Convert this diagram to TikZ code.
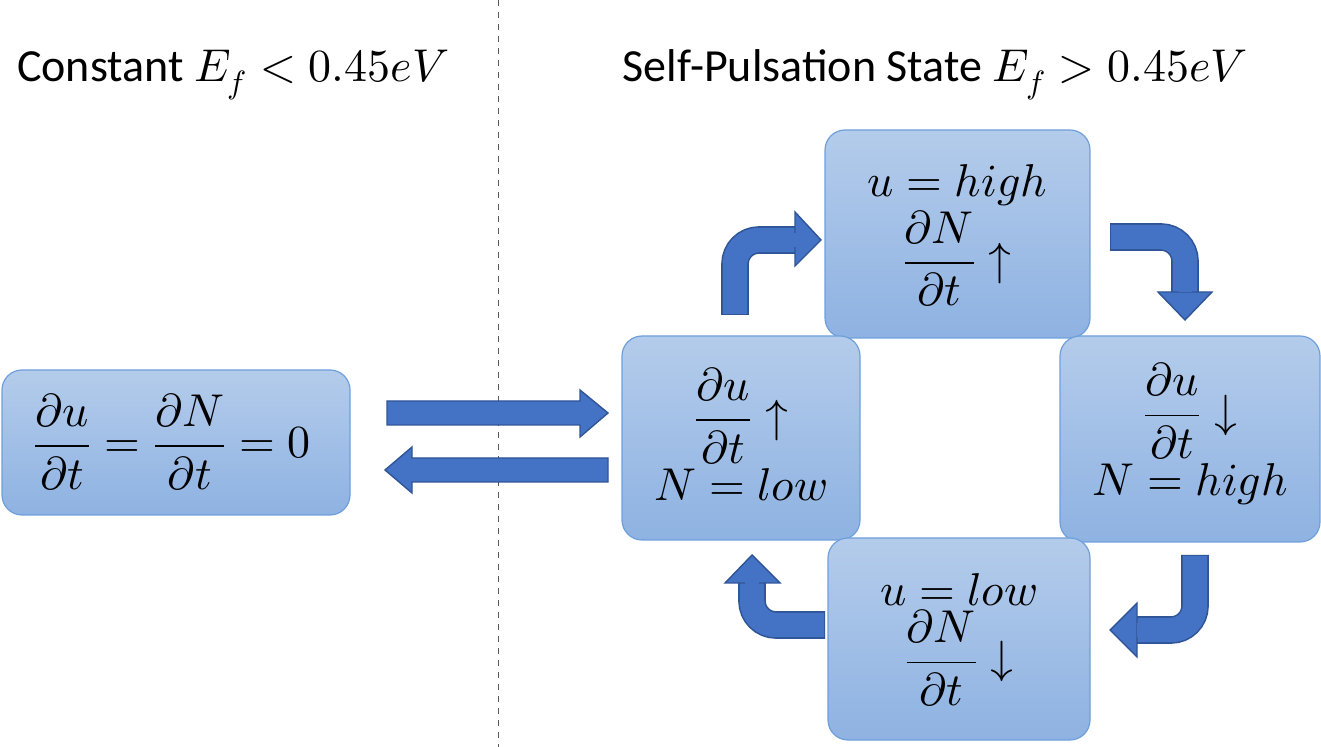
\documentclass[tikz,border=0pt]{standalone}
\usepackage{amsmath}
\usepackage{unicode-math}
\setmainfont{Carlito}
\setmathfont{Latin Modern Math}
\begin{document}
\definecolor{topc}{HTML}{B4CCEB}
\definecolor{botc}{HTML}{8EB2E2}
\definecolor{edgec}{HTML}{6F9FDB}
\definecolor{arrf}{HTML}{4472C4}
\definecolor{arrd}{HTML}{2F5597}
\begin{tikzpicture}[x=0.5pt,y=-0.5pt,
  box/.style={rounded corners=10pt,top color=topc,bottom color=botc,draw=edgec,line width=0.6pt},
  txt/.style={align=center,font=\fontsize{23}{25}\selectfont},
  title/.style={font=\fontsize{23}{26}\selectfont},
  shaftO/.style={draw=arrd,line width=13.8pt,rounded corners=12pt},
  shaftI/.style={draw=arrf,line width=12.2pt,rounded corners=12pt},
  head/.style={fill=arrf,draw=arrd,line width=0.7pt,line join=miter}]
\useasboundingbox (0,0) rectangle (1321,747);
\draw[dashed,gray!70!black,line width=0.5pt] (498,0) -- (498,747);
\node[title] (t1) at (233,75) {Constant $E_f<0.45eV$};
\node[title] (t2) at (935,75) {Self-Pulsation State $E_f>0.45eV$};
% boxes
\path[box] (2,370) rectangle (350,515);
\node[txt] (L) at (172,442) {$\dfrac{\partial u}{\partial t}=\dfrac{\partial N}{\partial t}=0$};
\path[box] (825,130) rectangle (1090,338);
\node[txt] (T) at (957,236) {$u=high$\\[1pt]$\dfrac{\partial N}{\partial t}\uparrow$};
\path[box] (622,336) rectangle (860,540);
\node[txt] (Lf) at (741,434) {$\dfrac{\partial u}{\partial t}\uparrow$\\[1pt]$N=low$};
\path[box] (1060,336) rectangle (1320,542);
\node[txt] (R) at (1190,434) {$\dfrac{\partial u}{\partial t}\downarrow$\\[1pt]$N=high$};
\path[box] (828,538) rectangle (1090,740);
\node[txt] (B) at (959,640) {$u=low$\\[1pt]$\dfrac{\partial N}{\partial t}\downarrow$};
% straight arrows
\draw[head] (387,401) -- (580,401) -- (580,390) -- (608,413) -- (580,437) -- (580,425) -- (387,425) -- cycle;
\draw[head] (608,458) -- (412,458) -- (412,447) -- (385,470) -- (412,493) -- (412,482) -- (608,482) -- cycle;
% bent arrows
\draw[shaftO] (735,315) -- (735,240) -- (796,240);
\draw[shaftI] (735,314) -- (735,240) -- (797,240);
\draw[head] (795,212) -- (821,240) -- (795,266) -- cycle;
\fill[arrf] (790,233) rectangle (796.5,247);

\draw[shaftO] (1110,237) -- (1185,237) -- (1185,293);
\draw[shaftI] (1111,237) -- (1185,237) -- (1185,294);
\draw[head] (1158,292) -- (1185,320) -- (1212,292) -- cycle;
\fill[arrf] (1178,287) rectangle (1192,292.5);

\draw[shaftO] (1195,555) -- (1195,630) -- (1137,630);
\draw[shaftI] (1195,556) -- (1195,630) -- (1136,630);
\draw[head] (1137,603) -- (1110,630) -- (1137,657) -- cycle;
\fill[arrf] (1136.5,623) rectangle (1142,637);

\draw[shaftO] (825,625) -- (752,625) -- (752,582);
\draw[shaftI] (824,625) -- (752,625) -- (752,581);
\draw[head] (725,583) -- (752,555) -- (780,583) -- cycle;
\fill[arrf] (745,582.5) rectangle (759,588);
\end{tikzpicture}
\end{document}
